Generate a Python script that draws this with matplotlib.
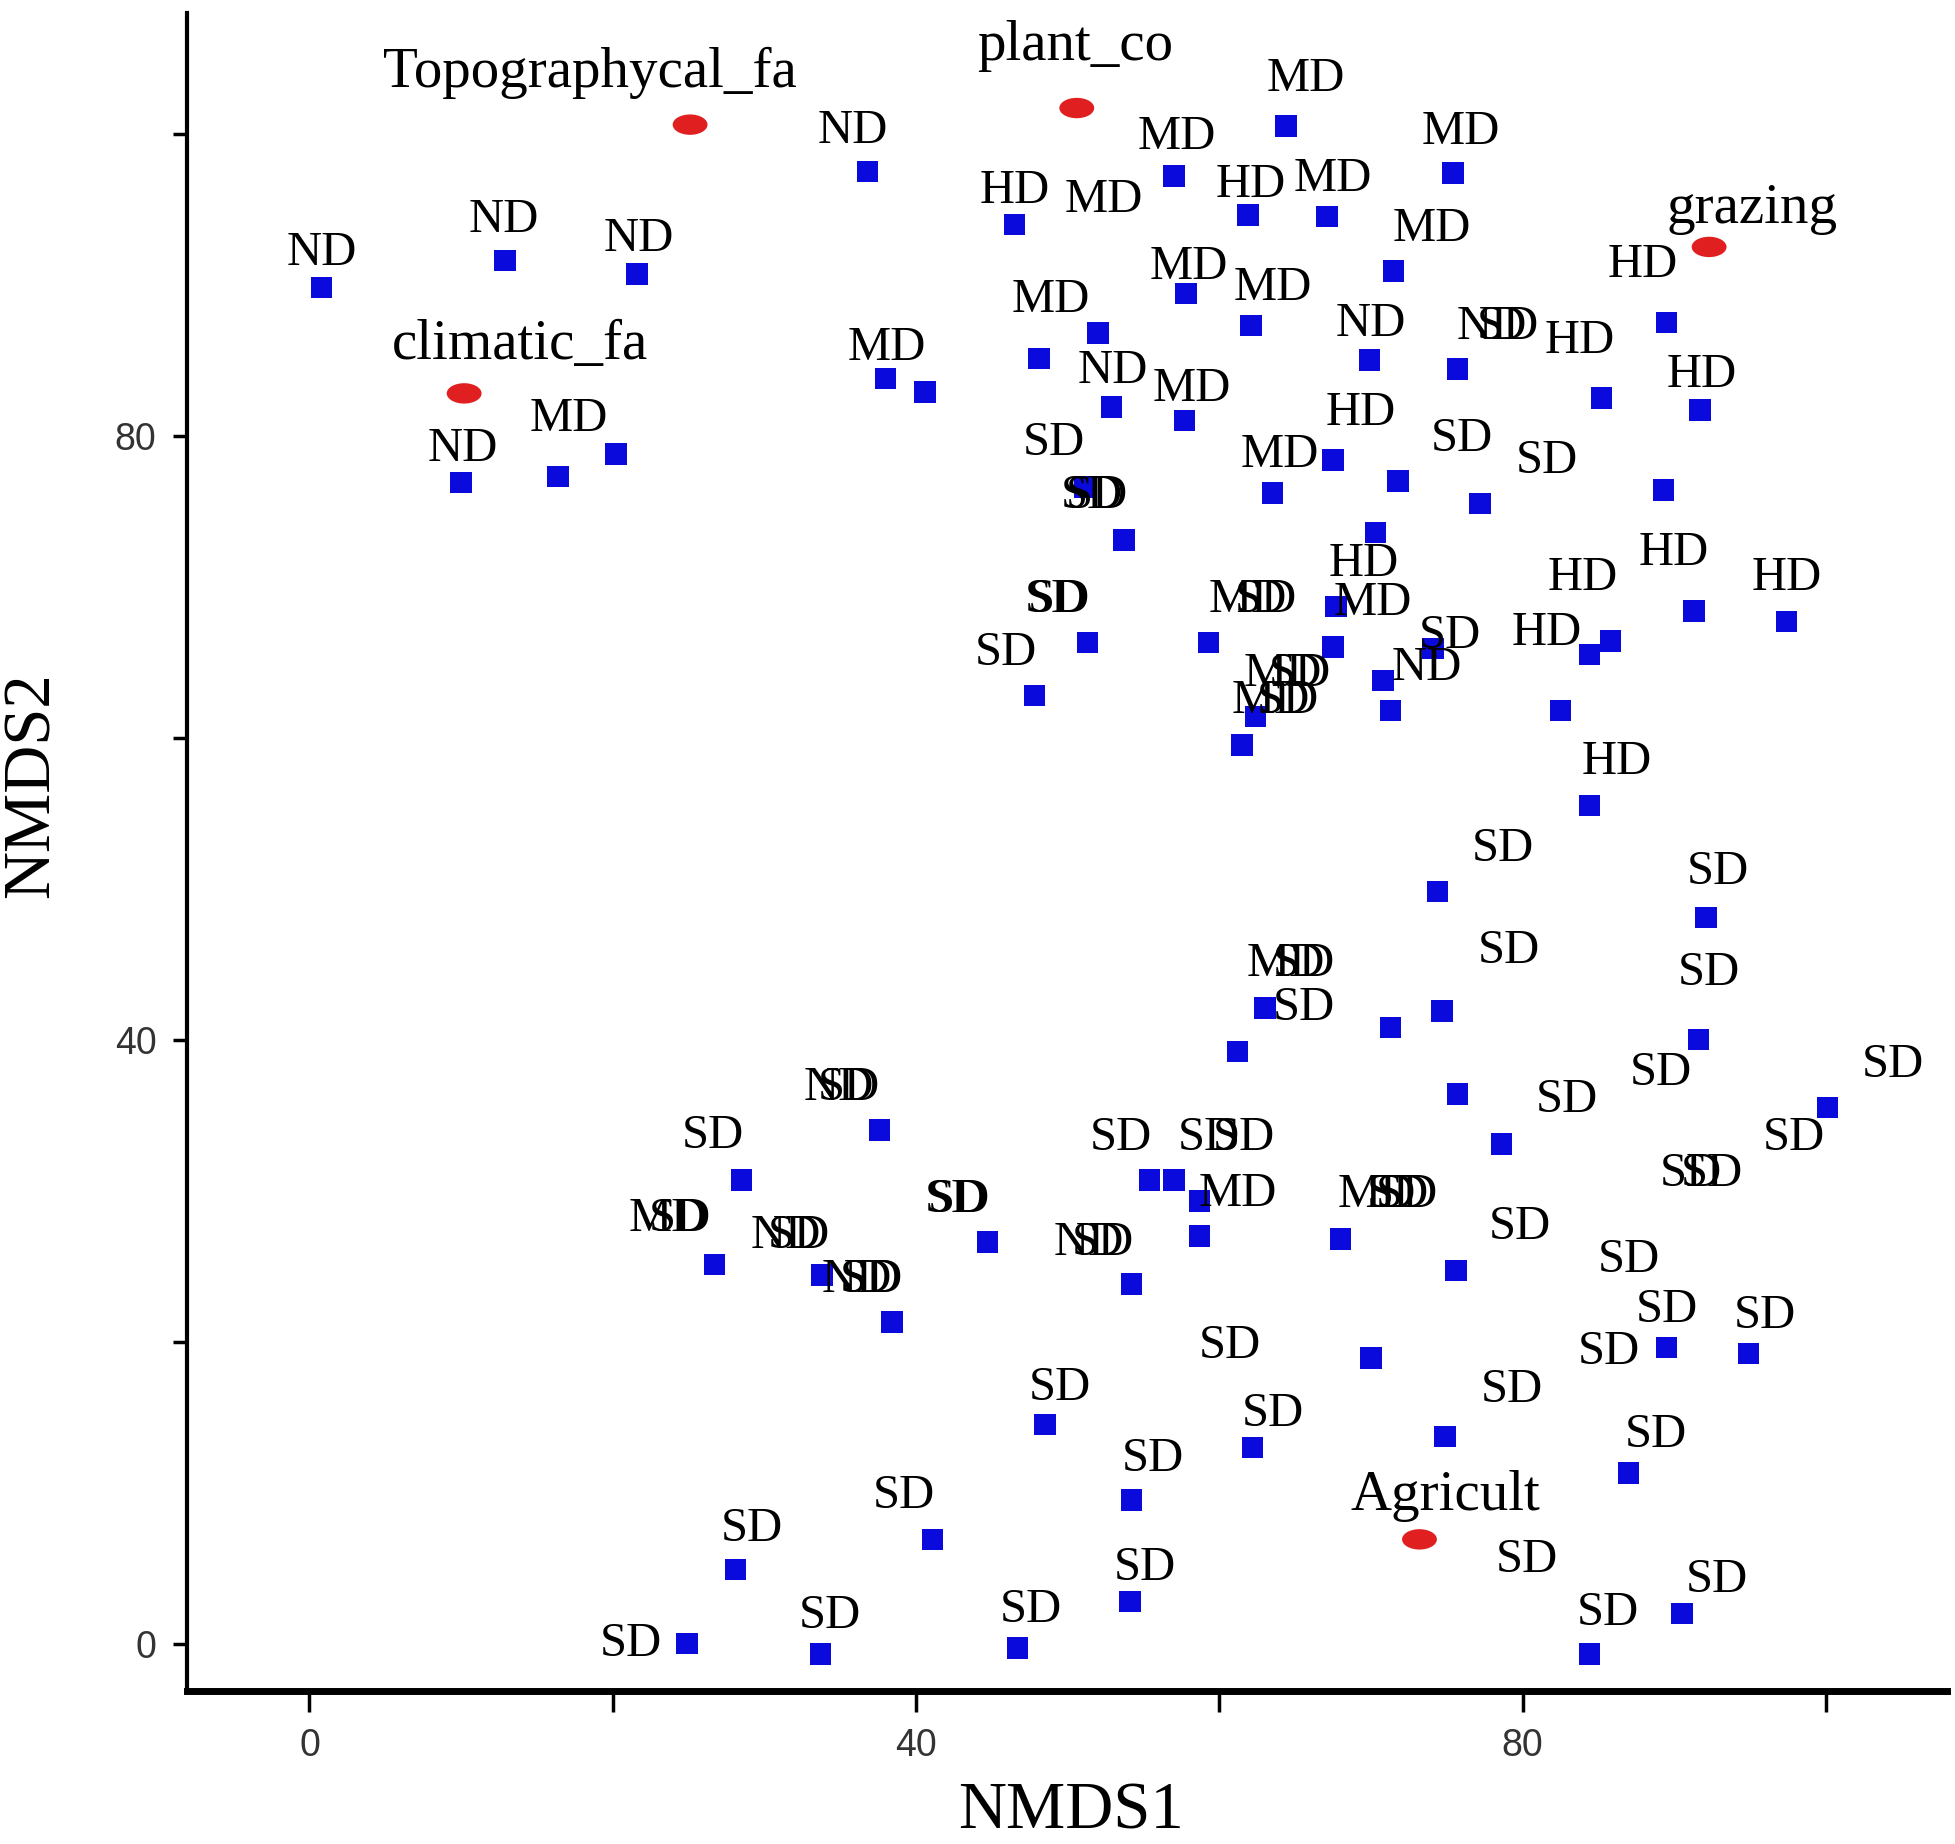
import matplotlib
matplotlib.use("Agg")
import matplotlib.pyplot as plt
from matplotlib.patches import Ellipse

# site scores (blue squares)
sq_x = [0.8, 12.9, 21.6, 36.8, 10.0, 16.4, 20.2, 38.0, 40.6, 46.5, 57.0, 64.4, 61.9, 67.1,
        75.4, 71.5, 57.8, 62.1, 52.0, 48.1, 52.9, 57.7, 69.9, 75.7, 85.2, 89.5, 91.7, 51.1,
        53.7, 63.5, 67.5, 71.8, 77.2, 89.3, 70.3, 67.7, 51.3, 59.3, 47.8, 67.5, 74.1, 70.8,
        71.3, 62.4, 61.5, 85.8, 84.4, 82.5, 91.3, 97.4, 84.4,
        74.4, 92.1, 74.7, 63.0, 61.2, 71.3, 91.6, 100.1, 75.7, 78.6, 75.6, 89.5, 94.9, 70.0,
        74.9, 87.0, 37.6, 28.5, 26.7, 33.8, 38.4, 44.7, 54.2, 55.4, 57.0, 58.7, 58.7, 68.0,
        48.5, 62.2, 54.2, 41.1, 28.1, 24.9, 33.7, 46.7, 54.1, 84.4, 90.5]
sq_y = [89.8, 91.6, 90.7, 97.5, 76.9, 77.3, 78.8, 83.8, 82.9, 94.0, 97.2, 100.5, 94.6, 94.5,
        97.4, 90.9, 89.4, 87.3, 86.8, 85.1, 81.9, 81.0, 85.0, 84.4, 82.5, 87.5, 81.7, 76.6,
        73.1, 76.2, 78.4, 77.0, 75.5, 76.4, 73.6, 68.7, 66.3, 66.3, 62.8, 66.0, 65.9, 63.8,
        61.8, 61.4, 59.5, 66.4, 65.5, 61.8, 68.4, 67.7, 55.5,
        49.8, 48.1, 41.9, 42.1, 39.2, 40.8, 40.0, 35.5, 36.4, 33.1, 24.7, 19.6, 19.2, 18.9,
        13.7, 11.3, 34.0, 30.7, 25.1, 24.4, 21.3, 26.6, 23.8, 30.7, 30.7, 29.3, 27.0, 26.8,
        14.5, 13.0, 9.5, 6.9, 4.9, 0.0, -0.7, -0.3, 2.8, -0.7, 2.0]

# site labels (as printed, overlapping ones kept overlapping)
lab_text = ["ND", "ND", "ND", "ND", "ND", "MD", "MD", "HD", "MD", "MD", "MD", "HD", "MD", "MD",
            "MD", "MD", "MD", "MD", "ND", "MD", "ND", "ND", "SD", "HD", "HD", "HD",
            "SD", "SD", "SD", "MD", "HD", "SD", "SD", "HD", "MD", "SD", "SD", "MD", "SD",
            "SD", "SD", "ND", "MD", "SD", "MD", "SD", "HD", "HD", "HD", "HD", "HD",
            "SD", "SD", "SD", "MD", "SD", "SD", "SD", "SD", "SD", "SD", "SD", "SD", "SD",
            "SD", "SD", "SD", "SD", "SD", "SD", "SD", "SD",
            "ND", "SD", "SD", "MD", "SD", "ND", "SD", "ND", "SD", "SD", "SD", "SD", "ND", "SD",
            "SD", "SD", "SD", "MD", "MD", "SD", "SD",
            "SD", "SD", "SD", "SD", "SD", "SD", "SD", "SD", "SD", "SD", "SD", "SD"]
lab_x = [0.8, 12.8, 21.7, 35.8, 10.1, 17.1, 38.1, 46.5, 52.4, 57.2, 65.7, 62.1, 67.5, 75.9,
         74.0, 58.0, 63.5, 48.9, 53.0, 58.2, 70.0, 78.0, 79.0, 83.8, 87.9, 91.8,
         49.1, 51.6, 51.9, 64.0, 69.3, 76.0, 81.6, 69.5, 70.1, 49.2, 49.4, 61.9, 63.1,
         45.9, 75.2, 73.7, 64.2, 65.3, 63.4, 64.5, 84.0, 81.6, 90.0, 97.4, 86.2,
         78.7, 92.9, 79.1, 64.4, 65.6, 65.6, 92.3, 89.1, 104.4, 82.9, 97.9, 91.1, 92.5,
         79.8, 87.0, 89.5, 96.0, 85.7, 60.7, 79.3, 88.8,
         34.9, 35.6, 26.6, 23.6, 24.4, 31.4, 32.3, 36.1, 37.0, 37.1, 42.6, 42.8, 51.4, 52.3,
         53.5, 59.3, 61.6, 61.2, 70.4, 71.8, 72.4,
         49.5, 63.5, 55.6, 39.2, 29.2, 21.2, 34.3, 47.6, 55.1, 80.3, 85.6, 92.8]
lab_y = [92.1, 94.3, 93.0, 100.2, 79.1, 81.1, 85.8, 96.2, 95.6, 99.8, 103.6, 96.6, 97.0, 100.1,
         93.7, 91.2, 89.8, 89.0, 84.3, 83.1, 87.4, 87.2, 87.2, 86.3, 91.3, 84.0,
         79.5, 76.0, 76.0, 78.7, 81.5, 79.8, 78.3, 71.5, 68.9, 69.1, 69.1, 69.1, 69.1,
         65.6, 66.7, 64.6, 64.2, 64.2, 62.4, 62.4, 70.6, 66.9, 72.2, 70.6, 58.4,
         52.6, 51.1, 45.9, 45.0, 45.0, 42.1, 44.4, 37.8, 38.3, 36.0, 33.5, 31.1, 31.1,
         27.6, 25.4, 22.1, 21.7, 19.3, 19.7, 16.8, 13.8,
         36.8, 36.8, 33.6, 28.1, 28.1, 27.0, 27.0, 24.1, 24.1, 24.1, 29.4, 29.4, 26.5, 26.5,
         33.5, 33.5, 33.5, 29.8, 29.7, 29.7, 29.7,
         16.9, 15.2, 12.2, 9.8, 7.6, 0.0, 1.8, 2.2, 5.0, 5.5, 2.0, 4.2]

# environmental factors (red ellipses)
env_names = ["Topographycal_fa", "plant_co", "grazing", "climatic_fa", "Agricult"]
env_x = [25.1, 50.6, 92.3, 10.2, 73.2]
env_y = [100.6, 101.7, 92.5, 82.8, 6.9]
env_lab_x = [18.5, 50.5, 95.1, 13.9, 74.9]
env_lab_y = [104.0, 105.8, 95.0, 86.0, 9.8]

serif = "Liberation Serif"

fig = plt.figure(figsize=(19.55, 18.44), dpi=100)
ax = fig.add_axes([0.0957, 0.083, 0.9003, 0.910])

ax.scatter(sq_x, sq_y, marker="s", s=240, color="#0a0adc", edgecolors="none", zorder=3)

for t, x, y in zip(lab_text, lab_x, lab_y):
    ax.text(x, y, t, ha="center", va="center", fontsize=35, family=serif,
            color="black", zorder=4)

for x, y in zip(env_x, env_y):
    ax.add_patch(Ellipse((x, y), 2.3, 1.35, facecolor="#e02020", edgecolor="none", zorder=3))
for name, x, y in zip(env_names, env_lab_x, env_lab_y):
    ax.text(x, y, name, ha="center", va="center", fontsize=41, family=serif,
            color="black", zorder=4)

ax.set_xlim(-8.07, 108)
ax.set_ylim(-3.14, 108)

ax.set_xticks([0, 20, 40, 60, 80, 100])
ax.set_xticklabels(["0", "", "40", "", "80", ""])
ax.set_yticks([0, 20, 40, 60, 80, 100])
ax.set_yticklabels(["0", "", "40", "", "80", ""])
ax.tick_params(axis="x", length=15, width=2.5, pad=12, labelsize=27, labelcolor="#333333")
ax.tick_params(axis="y", length=10, width=2.5, pad=12, labelsize=27, labelcolor="#333333")
for lbl in ax.get_xticklabels() + ax.get_yticklabels():
    lbl.set_family("Liberation Sans")

ax.spines["top"].set_visible(False)
ax.spines["right"].set_visible(False)
ax.spines["left"].set_linewidth(3)
ax.spines["bottom"].set_linewidth(5)

ax.set_xlabel("NMDS1", fontsize=48, family=serif)
ax.set_ylabel("NMDS2", fontsize=48, family=serif)
ax.xaxis.set_label_coords(0.502, -0.054)
ax.yaxis.set_label_coords(-0.071, 0.54)

fig.savefig("out.png", dpi=100)
